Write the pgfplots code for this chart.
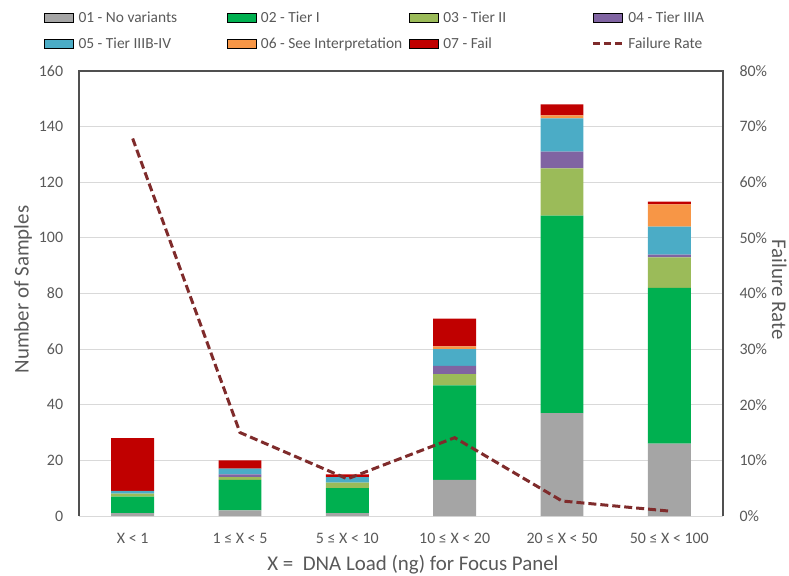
\documentclass[border=0pt]{standalone}
\usepackage{fontspec}
\setmainfont{Carlito}
\usepackage{pgfplots}
\usepackage{pgfplotstable}
\pgfplotsset{compat=1.18}

\definecolor{cNone}{HTML}{A5A5A5}
\definecolor{cTierI}{HTML}{00B050}
\definecolor{cTierII}{HTML}{9BBB59}
\definecolor{cTierIIIA}{HTML}{8064A2}
\definecolor{cTierIIIB}{HTML}{4BACC6}
\definecolor{cInterp}{HTML}{F79646}
\definecolor{cFail}{HTML}{C00000}
\definecolor{cRate}{HTML}{7F2B2B}
\definecolor{txt}{HTML}{595959}
\definecolor{gridc}{HTML}{D9D9D9}
\definecolor{framec}{HTML}{505050}

% Sample counts per DNA-load bin, and failure rate (%) of each bin
\pgfplotstableread{
x none tierI tierII tierIIIA tierIIIB interp fail rate
0  1  6  1 0  1 0 19 67.86
1  2 11  1 1  2 0  3 15.00
2  1  9  2 0  2 0  1  6.67
3 13 34  4 3  6 1 10 14.08
4 37 71 17 6 12 1  4  2.70
5 26 56 11 1 10 8  1  0.88
}\bins

\pgfplotsset{
  common/.style={
    at={(79bp,60bp)}, anchor=south west,
    scale only axis, width=644bp, height=445bp,
    xmin=-0.5, xmax=5.5,
    tick style={draw=none},
    /pgf/number format/assume math mode=true,
  },
  legbar/.style={legend image code/.code={\fill[##1] (0bp,-3.6bp) rectangle (29bp,5.4bp);}},
  legline/.style={legend image code/.code={\draw[##1, dash pattern=on 7bp off 4bp] (0bp,0.9bp) -- (29bp,0.9bp);}},
}

\newcommand{\lbl}[1]{\makebox[153bp][l]{\hspace{5bp}#1}}

\begin{document}
\begin{tikzpicture}
\useasboundingbox (0,0) rectangle (789bp,576bp);

\begin{axis}[
  common,
  ybar stacked, bar width=0.4,
  ymin=0, ymax=160, ytick={0,20,...,160},
  xtick={0,...,5},
  xticklabels={X < 1, 1 ≤ X < 5, 5 ≤ X < 10, 10 ≤ X < 20, 20 ≤ X < 50, 50 ≤ X < 100},
  xticklabel style={font=\fontsize{16}{19}\selectfont, text=txt, anchor=base, inner sep=0pt, yshift=-27.5bp},
  yticklabel style={font=\fontsize{16}{19}\selectfont, text=txt, anchor=east, inner sep=0pt, xshift=-15.7bp},
  ymajorgrids, grid style={gridc, line width=1bp},
  axis line style={draw=none},
  clip=false,
  xlabel={X =\ \ DNA Load (ng) for Focus Panel},
  ylabel={Number of Samples},
  xlabel style={font=\fontsize{21}{25}\selectfont, text=txt, at={(axis description cs:0.5186,-0.110)}, anchor=center},
  ylabel style={font=\fontsize{21}{25}\selectfont, text=txt, at={(axis description cs:-0.087,0.509)}, anchor=center, rotate=0},
]
\addplot[fill=cNone, draw=none] table[x=x, y=none] {\bins};
\addplot[fill=cTierI, draw=none] table[x=x, y=tierI] {\bins};
\addplot[fill=cTierII, draw=none] table[x=x, y=tierII] {\bins};
\addplot[fill=cTierIIIA, draw=none] table[x=x, y=tierIIIA] {\bins};
\addplot[fill=cTierIIIB, draw=none] table[x=x, y=tierIIIB] {\bins};
\addplot[fill=cInterp, draw=none] table[x=x, y=interp] {\bins};
\addplot[fill=cFail, draw=none] table[x=x, y=fail] {\bins};
\draw[framec, line width=1.2bp] (rel axis cs:0,0) -- (rel axis cs:0,1) -- (rel axis cs:1,1) -- (rel axis cs:1,0);
\end{axis}

\begin{axis}[
  common,
  ymin=0, ymax=80, ytick={0,10,...,80},
  axis x line=none, axis y line*=right,
  axis line style={draw=none},
  yticklabel={\pgfmathprintnumber{\tick}\%},
  yticklabel style={font=\fontsize{16}{19}\selectfont, text=txt, anchor=west, inner sep=0pt, xshift=16.3bp},
  ylabel={Failure Rate},
  ylabel style={font=\fontsize{21}{25}\selectfont, text=txt, at={(axis description cs:1.0875,0.509)}, anchor=center, rotate=180},
  clip=false,
  legend columns=4,
  legend cell align=left,
  legend style={
    at={(axis description cs:-0.05435,1.1357)}, anchor=north west,
    draw=none, fill=none, inner sep=0pt,
    font=\fontsize{15.5}{18}\selectfont, text=txt,
    nodes={inner sep=0pt, text height=12bp, text depth=4bp},
    /tikz/column sep=0pt, /tikz/row sep=10bp,
  },
]
\addlegendimage{legbar, fill=cNone}
\addlegendentry{\lbl{01 - No variants}}
\addlegendimage{legbar, fill=cTierI}
\addlegendentry{\lbl{02 - Tier I}}
\addlegendimage{legbar, fill=cTierII}
\addlegendentry{\lbl{03 - Tier II}}
\addlegendimage{legbar, fill=cTierIIIA}
\addlegendentry{\lbl{04 - Tier IIIA}}
\addlegendimage{legbar, fill=cTierIIIB}
\addlegendentry{\lbl{05 - Tier IIIB-IV}}
\addlegendimage{legbar, fill=cInterp}
\addlegendentry{\lbl{06 - See Interpretation}}
\addlegendimage{legbar, fill=cFail}
\addlegendentry{\lbl{07 - Fail}}
\addplot[cRate, line width=3bp, dash pattern=on 8bp off 4bp, legline]
  table[x=x, y=rate] {\bins};
\addlegendentry{\lbl{Failure Rate}}
\end{axis}
\end{tikzpicture}
\end{document}
